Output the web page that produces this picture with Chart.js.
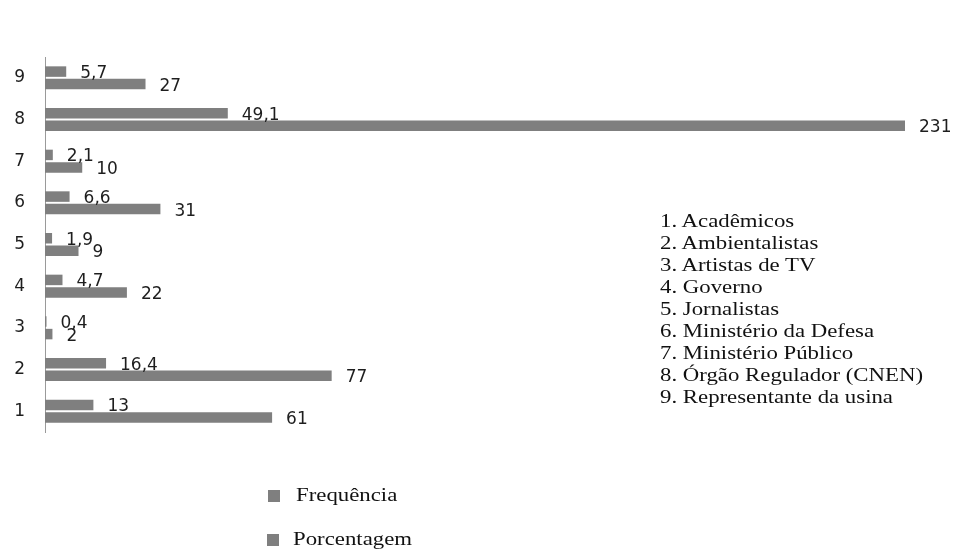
<!DOCTYPE html>
<html>
<head>
<meta charset="utf-8">
<script src="https://cdn.jsdelivr.net/npm/chart.js@4/dist/chart.umd.min.js"></script>
<style>
  html, body { margin: 0; padding: 0; background: #fff; }
  #wrap { position: relative; width: 977px; height: 550px; overflow: hidden; }
  #chart { position: absolute; left: 0; top: 0; }
  .serif { font-family: "Liberation Serif", "Times New Roman", serif; font-size: 19px; color: #111;
           transform: scaleX(1.2); transform-origin: 0 0; white-space: nowrap; }
  #groups { position: absolute; left: 660px; top: 210px; line-height: 22px; }
  .leg { position: absolute; line-height: 22px; }
  #legend i { position: absolute; display: block; width: 12px; height: 12px; background: #7f7f7f; }
</style>
</head>
<body>
<div id="wrap">
  <canvas id="chart" width="977" height="550"></canvas>
  <div id="groups" class="serif"></div>
  <div id="legend"></div>
</div>
<script>
// categories, bottom (1) to top (9)
const categories = ['1', '2', '3', '4', '5', '6', '7', '8', '9'];
const groupNames = [
  'Acadêmicos',
  'Ambientalistas',
  'Artistas de TV',
  'Governo',
  'Jornalistas',
  'Ministério da Defesa',
  'Ministério Público',
  'Órgão Regulador (CNEN)',
  'Representante da usina',
];
const frequencia = [61, 77, 2, 22, 9, 31, 10, 231, 27];
const porcentagem = [13, 16.4, 0.4, 4.7, 1.9, 6.6, 2.1, 49.1, 5.7];
const seriesNames = ['Frequência', 'Porcentagem'];

const BAR = '#7f7f7f';
const NUM_FONT = '"DejaVu Sans", Verdana, sans-serif';

// side list of group names
document.getElementById('groups').innerHTML =
  groupNames.map((g, i) => categories[i] + '. ' + g).join('<br>');

// bottom legend
const legendTops = [488, 532];
document.getElementById('legend').innerHTML = seriesNames.map((n, i) =>
  '<i style="left:' + (i ? 267 : 268) + 'px;top:' + (legendTops[i] + 2) + 'px"></i>' +
  '<div class="leg serif" style="left:' + (i ? 293 : 296) + 'px;top:' + (legendTops[i] - 4) + 'px">' + n + '</div>'
).join('');

// chart is drawn top-down, so reverse categories (9 on top)
const rev = a => a.slice().reverse();

const valueLabels = {
  id: 'valueLabels',
  afterDatasetsDraw(chart) {
    const ctx = chart.ctx;
    ctx.save();
    ctx.font = '17px ' + NUM_FONT;
    ctx.fillStyle = '#1e1e1e';
    ctx.textAlign = 'left';
    ctx.textBaseline = 'middle';
    chart.data.datasets.forEach((ds, di) => {
      chart.getDatasetMeta(di).data.forEach((bar, i) => {
        const txt = String(ds.data[i]).replace('.', ',');
        ctx.fillText(txt, bar.x + 14, bar.y + 2);
      });
    });
    ctx.restore();
  }
};

new Chart(document.getElementById('chart'), {
  type: 'bar',
  data: {
    labels: rev(categories),
    datasets: [
      // upper bar of each pair
      { label: seriesNames[1], data: rev(porcentagem), backgroundColor: BAR,
        categoryPercentage: 0.6, barPercentage: 0.84 },
      // lower bar of each pair
      { label: seriesNames[0], data: rev(frequencia), backgroundColor: BAR,
        categoryPercentage: 0.6, barPercentage: 0.84 },
    ]
  },
  options: {
    indexAxis: 'y',
    responsive: false,
    animation: false,
    layout: { padding: { left: 0, top: 57, right: 72, bottom: 118 } },
    plugins: { legend: { display: false }, tooltip: { enabled: false } },
    scales: {
      x: { display: false, min: 0, max: 231 },
      y: {
        afterFit: s => { s.width = 45; },
        grid: { display: false, drawTicks: false },
        border: { display: true, color: '#9a9a9a', width: 1 },
        ticks: { color: '#1e1e1e', padding: 20, font: { family: NUM_FONT, size: 17 } }
      }
    }
  },
  plugins: [valueLabels]
});
</script>
</body>
</html>
